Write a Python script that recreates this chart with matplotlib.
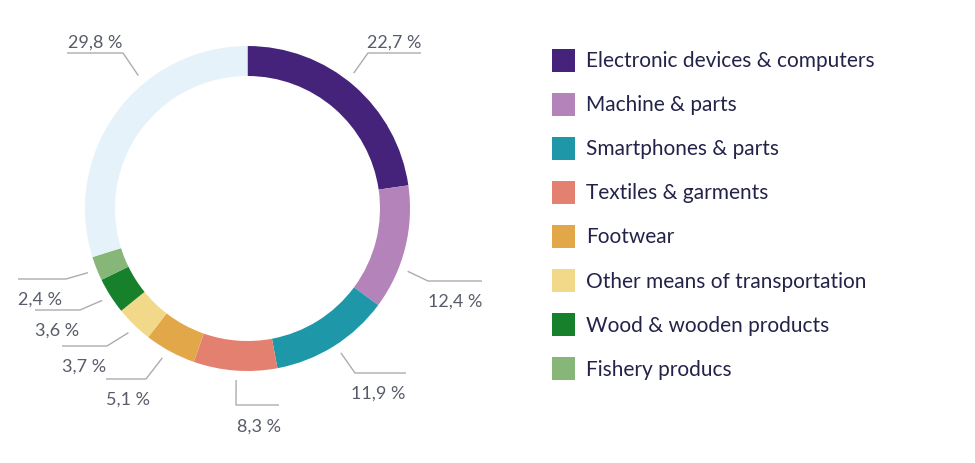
import numpy as np
import matplotlib
matplotlib.use("Agg")
import matplotlib.pyplot as plt
from matplotlib.patches import Rectangle

W, H = 975, 464

categories = ["Electronic devices & computers", "Machine & parts", "Smartphones & parts",
              "Textiles & garments", "Footwear", "Other means of transportation",
              "Wood & wooden products", "Fishery producs"]
shares = [22.7, 12.4, 11.9, 8.3, 5.1, 3.7, 3.6, 2.4]
rest_share = 29.8
colors = ["#46237a", "#b383b9", "#1e97a8", "#e38070", "#e2a748", "#f2d98a",
          "#16802a", "#86b779"]
rest_color = "#e6f2fa"

# leader layout (image pixels): start angle, elbow, end x, text anchor x, text y, align
leaders = [
    (51.9, (368, 54), 421, 421, 43, "right"),
    (-21.4, (428, 282), 482, 482, 302, "right"),
    (-57.1, (355, 374), 406, 405, 394, "right"),
    (-93.8, (236, 406), 279, 237, 427, "left"),
    (-119.7, (146, 380), 106, 106, 400, "left"),
    (-133.8, (107, 347), 62, 62, 367, "left"),
    (-147.7, (80, 311), 35, 35, 331, "left"),
    (-158.1, (66, 280), 18, 18, 300, "left"),
    (129.4, (123, 54), 67, 68, 43, "left"),
]

plt.rcParams["font.family"] = ["Lato", "DejaVu Sans"]

fig = plt.figure(figsize=(W / 100, H / 100), dpi=100)
ax = fig.add_axes([0, 0, 1, 1])

cx, cy, r_out = 247.5, H - 209.5, 162.5
ax.pie(shares + [rest_share], colors=colors + [rest_color], startangle=90,
       counterclock=False, radius=r_out, center=(cx, cy),
       wedgeprops=dict(width=30, linewidth=0))
ax.set_xlim(0, W)
ax.set_ylim(0, H)
ax.set_aspect("equal")
ax.axis("off")

def fmt(v):
    return f"{v:.1f}".replace(".", ",") + " %"

values = shares + [rest_share]
for v, (ang, (ex, ey), end_x, tx, ty, ha) in zip(values, leaders):
    a = np.radians(ang)
    sx = cx + 172 * np.cos(a)
    sy = cy + 172 * np.sin(a)
    ax.plot([sx, ex, end_x], [sy, H - ey, H - ey], color="#a9acb2", lw=1.0,
            solid_capstyle="butt")
    ax.text(tx, H - ty, fmt(v), ha=ha, va="center", fontsize=13, color="#585c68")

# legend
for i, (name, c) in enumerate(zip(categories, colors)):
    yc = H - (61 + i * 44.1)
    ax.add_patch(Rectangle((552, yc - 11.5), 23, 23, color=c, lw=0))
    ax.text(586, yc, name, ha="left", va="center", fontsize=15, color="#23234a")

fig.savefig("out.png", dpi=100)
